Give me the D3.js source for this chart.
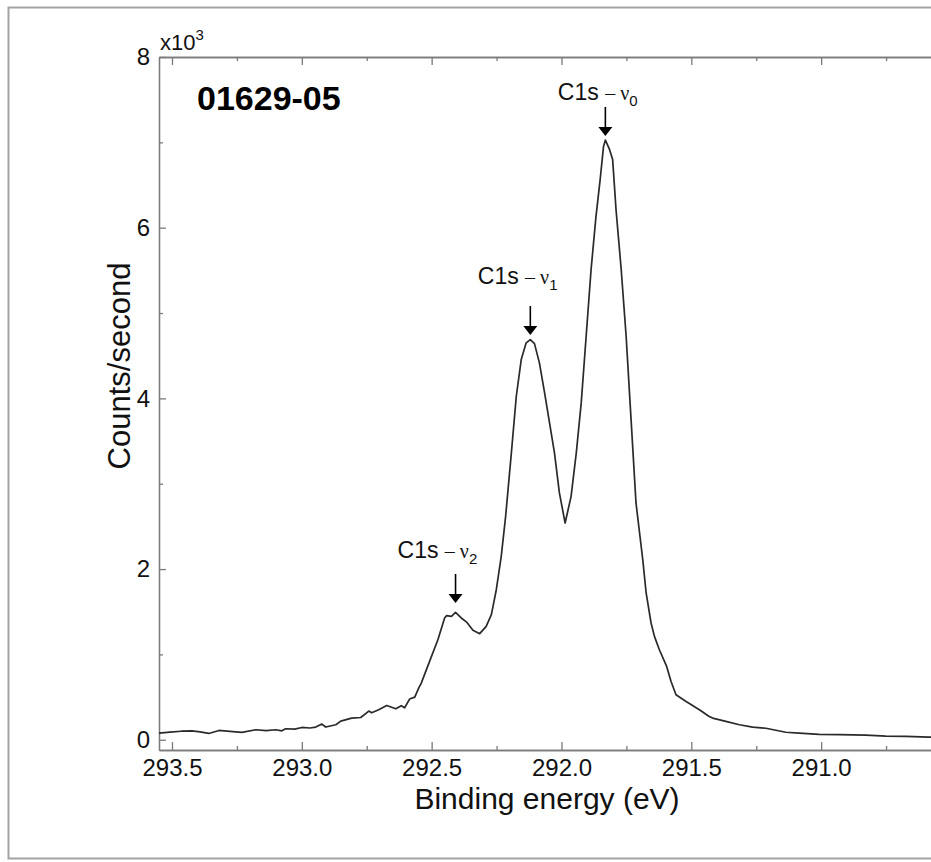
<!DOCTYPE html>
<html>
<head>
<meta charset="utf-8">
<script src="https://cdn.jsdelivr.net/npm/d3@7"></script>
<style>
  body { margin: 0; background: #fff; }
  text { font-family: "Liberation Sans", Arial, sans-serif; }
</style>
</head>
<body>
<div id="chart"></div>
<script>
// Binding energy (eV) and counts/second
let energy = [293.550, 293.508, 293.465, 293.423, 293.392, 293.358, 293.319, 293.277, 293.231, 293.177,
  293.138, 293.100, 293.077, 293.062, 293.027, 293.000, 292.969, 292.946, 292.923, 292.908,
  292.869, 292.850, 292.808, 292.773, 292.742, 292.731, 292.704, 292.673, 292.638, 292.617,
  292.604, 292.585, 292.565, 292.550, 292.540, 292.508, 292.476, 292.450, 292.443, 292.424,
  292.408, 292.386, 292.364, 292.341, 292.315, 292.290, 292.270, 292.251, 292.232, 292.215,
  292.193, 292.174, 292.155, 292.136, 292.120, 292.104, 292.085, 292.065, 292.046, 292.027,
  292.008, 291.986, 291.963, 291.943, 291.924, 291.905, 291.886, 291.867, 291.851, 291.838,
  291.831, 291.815, 291.803, 291.790, 291.770, 291.751, 291.732, 291.713, 291.687, 291.674,
  291.655, 291.642, 291.623, 291.595, 291.578, 291.559, 291.520, 291.469, 291.431, 291.418,
  291.367, 291.315, 291.264, 291.213, 291.136, 291.085, 291.008, 290.931, 290.828, 290.751,
  290.674, 290.585, 290.555];
let counts = [78, 90, 100, 105, 92, 74, 109, 98, 86, 117,
  108, 117, 105, 129, 125, 144, 138, 149, 184, 149,
  176, 219, 254, 261, 336, 317, 352, 402, 363, 399,
  375, 477, 500, 606, 664, 918, 1172, 1427, 1454, 1446,
  1493, 1427, 1375, 1282, 1243, 1329, 1466, 1758, 2149, 2620,
  3361, 4025, 4455, 4651, 4689, 4642, 4416, 4064, 3713, 3361,
  2892, 2540, 2852, 3361, 3947, 4728, 5510, 6135, 6565, 6955,
  7026, 6917, 6800, 6213, 5510, 4728, 3751, 2775, 2110, 1720,
  1368, 1211, 1055, 859, 683, 528, 449, 352, 273, 254,
  215, 176, 148, 135, 88, 78, 62, 59, 55, 42,
  39, 30, 30];

let xTicks = [293.5, 293.0, 292.5, 292.0, 291.5, 291.0];
let xMinorTicks = [293.25, 292.75, 292.25, 291.75, 291.25, 290.75];
let yTicks = [0, 2000, 4000, 6000, 8000];
let yMinorTicks = [1000, 3000, 5000, 7000];

// Peak annotations
let peakIndex = ["0", "1", "2"];
let peakEnergy = [291.831, 292.120, 292.408];
let peakArrowAt = [7075, 4743, 1603];

let sampleName = "01629-05";

// layout
let margin = {top: 57, right: -7, bottom: 112, left: 159},
    width = 931 - margin.left - margin.right,
    height = 862 - margin.top - margin.bottom;
let labelOffsets = [[-47.5, -7], [-52.5, -22], [-58, -16]];
let axisColor = "#7a7a7a";

let x = d3.scaleLinear().domain([293.55, 290.55]).range([0, width]);
let y = d3.scaleLinear().domain([-120, 8000]).range([height, 0]);

let svg = d3.select("#chart").append("svg")
    .attr("width", 931)
    .attr("height", 862);

// outer frame
svg.append("rect")
    .attr("x", 8.5).attr("y", 7.5)
    .attr("width", 940).attr("height", 851)
    .attr("fill", "none")
    .attr("stroke", "#a3a3a3")
    .attr("stroke-width", 2);

let g = svg.append("g")
    .attr("transform", "translate(" + margin.left + "," + margin.top + ")");

function styleAxis(sel) {
    sel.selectAll("path, line").attr("stroke", axisColor).attr("stroke-width", 1.3);
    sel.selectAll("text").attr("fill", "#111").style("font-size", "24px")
        .attr("font-family", null);
}

// bottom axis with labels
g.append("g")
    .attr("transform", "translate(0," + height + ")")
    .call(d3.axisBottom(x).tickValues(xTicks).tickSizeInner(-8).tickSizeOuter(0)
        .tickPadding(9).tickFormat(d3.format(".1f")))
    .call(styleAxis);
g.append("g")
    .attr("transform", "translate(0," + height + ")")
    .call(d3.axisBottom(x).tickValues(xMinorTicks).tickSizeInner(-4).tickSizeOuter(0).tickFormat(""))
    .call(styleAxis);

// top axis
g.append("g")
    .call(d3.axisTop(x).tickValues(xTicks).tickSizeInner(-8).tickSizeOuter(0).tickFormat(""))
    .call(styleAxis);
g.append("g")
    .call(d3.axisTop(x).tickValues(xMinorTicks).tickSizeInner(-4).tickSizeOuter(0).tickFormat(""))
    .call(styleAxis);

// left axis with labels
g.append("g")
    .call(d3.axisLeft(y).tickValues(yTicks).tickSizeInner(-7).tickSizeOuter(0)
        .tickPadding(9).tickFormat(function(d) { return d / 1000; }))
    .call(styleAxis);
g.append("g")
    .call(d3.axisLeft(y).tickValues(yMinorTicks).tickSizeInner(-4).tickSizeOuter(0).tickFormat(""))
    .call(styleAxis);

// right axis
g.append("g")
    .attr("transform", "translate(" + width + ",0)")
    .call(d3.axisRight(y).tickValues(yTicks).tickSizeInner(-7).tickSizeOuter(0).tickFormat(""))
    .call(styleAxis);
g.append("g")
    .attr("transform", "translate(" + width + ",0)")
    .call(d3.axisRight(y).tickValues(yMinorTicks).tickSizeInner(-4).tickSizeOuter(0).tickFormat(""))
    .call(styleAxis);

// the spectrum
let line = d3.line()
    .x(function(d, i) { return x(energy[i]); })
    .y(function(d) { return y(d); });

g.append("path")
    .datum(counts)
    .attr("fill", "none")
    .attr("stroke", "#2a2a2a")
    .attr("stroke-width", 1.7)
    .attr("stroke-linejoin", "round")
    .attr("d", line);

// peak arrows and labels
let arrowLen = 29;
peakIndex.forEach(function(k, i) {
    let ax = x(peakEnergy[i]), tip = y(peakArrowAt[i]), top = tip - arrowLen;
    g.append("line")
        .attr("x1", ax).attr("x2", ax)
        .attr("y1", top).attr("y2", tip - 6)
        .attr("stroke", "#000").attr("stroke-width", 1.6);
    g.append("path")
        .attr("d", "M" + (ax - 7) + "," + (tip - 9) + "L" + (ax + 7) + "," + (tip - 9) + "L" + ax + "," + tip + "Z")
        .attr("fill", "#000");

    let t = g.append("text")
        .attr("x", ax + labelOffsets[i][0])
        .attr("y", top + labelOffsets[i][1])
        .attr("fill", "#111");
    t.append("tspan").style("font-size", "23px").text("C1s ");
    t.append("tspan").style("font-size", "20px")
        .attr("font-family", "'Liberation Serif', 'Times New Roman', serif")
        .text("\u2013 \u03bd");
    t.append("tspan").style("font-size", "15px").attr("dy", 6).text(k);
});

// sample name
g.append("text")
    .attr("x", 197 - margin.left)
    .attr("y", 110 - margin.top)
    .style("font-size", "34px")
    .style("font-weight", "bold")
    .attr("fill", "#000")
    .text(sampleName);

// multiplier
let mult = svg.append("text")
    .attr("x", 160).attr("y", 50)
    .attr("fill", "#111");
mult.append("tspan").style("font-size", "22px").text("x10");
mult.append("tspan").style("font-size", "15px").attr("dy", -10).text("3");

// axis titles
svg.append("text")
    .attr("x", 547).attr("y", 809)
    .attr("text-anchor", "middle")
    .style("font-size", "30px")
    .attr("fill", "#111")
    .text("Binding energy (eV)");

svg.append("text")
    .attr("transform", "translate(130,366) rotate(-90)")
    .attr("text-anchor", "middle")
    .style("font-size", "31px")
    .attr("fill", "#111")
    .text("Counts/second");
</script>
</body>
</html>
